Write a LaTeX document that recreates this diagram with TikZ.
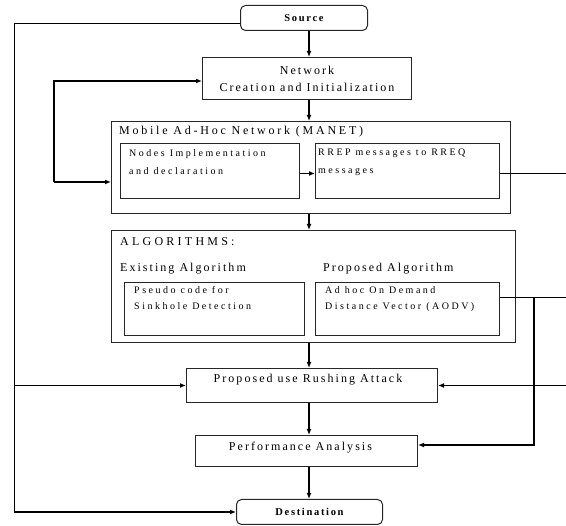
\documentclass[tikz,border=0pt]{standalone}
\usepackage{fontspec}
\setmainfont{Liberation Serif}
\newfontfamily\lsfont[LetterSpace=17]{Liberation Serif}
\newfontfamily\lstitle[LetterSpace=23]{Liberation Serif}
\newfontfamily\lscaps[LetterSpace=27]{Liberation Serif}
\newfontfamily\lssmall[LetterSpace=25]{Liberation Serif}
\newfontfamily\lsbold[LetterSpace=16]{Liberation Serif Bold}
\usetikzlibrary{arrows.meta}
\begin{document}
\begin{tikzpicture}[x=1pt,y=-1pt,
  box/.style={draw=black!85, line width=1pt, inner sep=0pt, anchor=north west},
  rbox/.style={box, rounded corners=5pt},
  arr/.style={line width=1.3pt, -{Latex[length=6pt,width=5pt]}},
  ln/.style={line width=0.9pt},
  big/.style={font=\lsfont\fontsize{12}{17}\selectfont, inner sep=0pt},
  title/.style={font=\lstitle\fontsize{12}{17}\selectfont, inner sep=0pt},
  caps/.style={font=\lscaps\fontsize{12}{17}\selectfont, inner sep=0pt},
  small/.style={font=\lssmall\fontsize{10}{18}\selectfont, inner sep=0pt, align=left},
  smallb/.style={font=\lsbold\fontsize{10.5}{12}\selectfont}]
\useasboundingbox (0,0) rectangle (566,526);

% boxes
\node[rbox, minimum width=127pt, minimum height=25pt, smallb] (src) at (240,5) {Source};
\node[box, minimum width=209pt, minimum height=42pt, align=center, font=\lsfont\fontsize{12}{17}\selectfont] (net) at (202,57) {Network\\Creation and Initialization};

\node[box, minimum width=399pt, minimum height=92pt] (manet) at (111,121) {};
\node[title, anchor=west] (manetT) at (119,132) {Mobile Ad-Hoc Network (MANET)};
\node[box, minimum width=179pt, minimum height=55pt] (nodes) at (120,143) {};
\node[small, anchor=north west] (nodesT) at (129,149) {Nodes Implementation\\and declaration};
\node[box, minimum width=184pt, minimum height=55pt] (rrep) at (315,143) {};
\node[small, anchor=north west] (rrepT) at (318,149) {RREP messages to RREQ\\messages};

\node[box, minimum width=404pt, minimum height=112pt] (alg) at (111,230) {};
\node[caps, anchor=west] (algT) at (120,242) {ALGORITHMS:};
\node[big, anchor=west] (exT) at (120,269) {Existing Algorithm};
\node[big, anchor=west] (prT) at (323,269) {Proposed Algorithm};
\node[box, minimum width=180pt, minimum height=53pt] (pseudo) at (124,282) {};
\node[small, anchor=north west, font=\lssmall\fontsize{10}{16}\selectfont] (pseudoT) at (134,286.5) {Pseudo code for\\Sinkhole Detection};
\node[box, minimum width=184pt, minimum height=53pt] (aodv) at (315,282) {};
\node[small, anchor=north west, font=\lssmall\fontsize{10}{16}\selectfont] (aodvT) at (325,286.5) {Ad hoc On Demand\\Distance Vector (AODV)};

\node[box, minimum width=251pt, minimum height=34pt] (rush) at (186,368) {};
\node[big] (rushT) at ([xshift=-4pt,yshift=6pt]rush.center) {Proposed use Rushing Attack};
\node[box, minimum width=222pt, minimum height=31pt] (perf) at (195,435) {};
\node[big] (perfT) at ([xshift=-6pt,yshift=3.5pt]perf.center) {Performance Analysis};
\node[rbox, minimum width=146pt, minimum height=25pt, smallb] (dst) at (236,499) {Destination};

% helper coordinates
\coordinate (col) at (309,0);
\coordinate (ol) at (14,0);
\coordinate (re) at (566,0);
\coordinate (br) at (534,0);
\coordinate (lpA) at (54,81);
\coordinate (lpB) at (54,182);
\coordinate (pA) at (0,445);

% main vertical flow
\draw[arr] (src.south -| col) -- (net.north -| col);
\draw[arr] (net.south -| col) -- (manet.north -| col);
\draw[arr] (manet.south -| col) -- (alg.north -| col);
\draw[arr] (alg.south -| col) -- (rush.north -| col);
\draw[arr] (rush.south -| col) -- (perf.north -| col);
\draw[arr] (perf.south -| col) -- (dst.north -| col);

% loop on the left
\draw[arr] (lpB) -- (lpA) -- (net.west |- lpA);
\draw[arr] (lpB) -- (manet.west |- lpB);

% nodes -> rrep
\draw[arr] ([yshift=-2.5pt]nodes.east) -- ([yshift=-2.5pt]rrep.west);

% outer left line
\draw[ln] ([yshift=-5.5pt]src.west) -| (ol |- dst.west);
\draw[arr] (ol |- dst.west) -- (dst.west);
\draw[arr] (ol |- rush.west) -- (rush.west);

% right side lines
\draw[ln] ([yshift=-2.5pt]rrep.east) coordinate (r1) -- (r1 -| re);
\draw[ln] ([yshift=11.5pt]aodv.east) coordinate (a1) -- (a1 -| re);
\draw[arr] (a1 -| br) -- (br |- pA) -- (perf.east |- pA);
\draw[arr] (re |- rush.east) -- (rush.east);
\end{tikzpicture}
\end{document}
